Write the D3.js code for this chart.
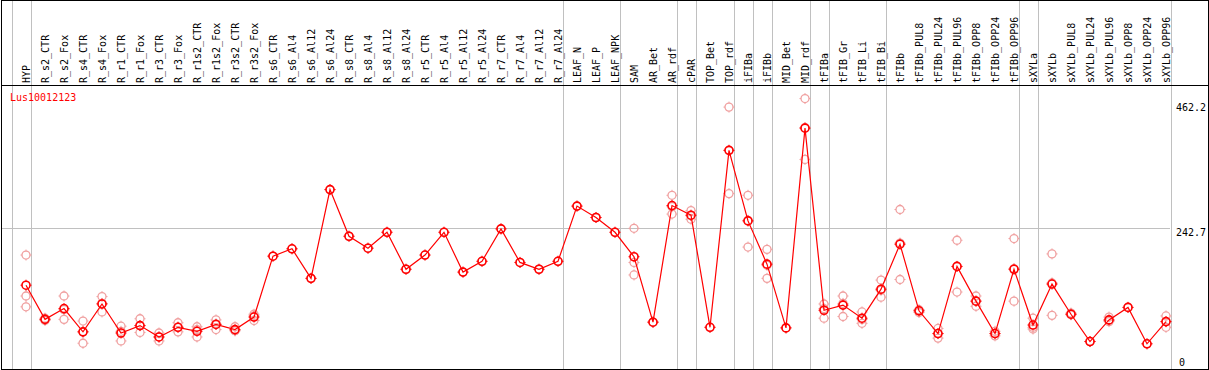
<!DOCTYPE html>
<html lang="en">
<head>
<meta charset="utf-8">
<title>Lus10012123</title>
<script src="https://d3js.org/d3.v7.min.js"></script>
<style>
  body { margin: 0; background: #fff; }
  svg text { font-family: "DejaVu Sans Mono", monospace; font-size: 10px; }
  .sep { stroke: #c0c0c0; stroke-width: 1px; shape-rendering: crispEdges; }
  .frame { stroke: #000; stroke-width: 1px; fill: none; shape-rendering: crispEdges; }
  .mean-line { fill: none; stroke: red; stroke-width: 1.2px; }
</style>
</head>
<body>
<svg width="1209" height="370"></svg>
<script>
// sample names, left to right
var categories = ["HYP","R_s2_CTR","R_s2_Fox","R_s4_CTR","R_s4_Fox","R_r1_CTR","R_r1_Fox","R_r3_CTR","R_r3_Fox",
  "R_r1s2_CTR","R_r1s2_Fox","R_r3s2_CTR","R_r3s2_Fox","R_s6_CTR","R_s6_Al4","R_s6_Al12","R_s6_Al24",
  "R_s8_CTR","R_s8_Al4","R_s8_Al12","R_s8_Al24","R_r5_CTR","R_r5_Al4","R_r5_Al12","R_r5_Al24",
  "R_r7_CTR","R_r7_Al4","R_r7_Al12","R_r7_Al24","LEAF_N","LEAF_P","LEAF_NPK","SAM","AR_Bet","AR_rdf",
  "cPAR","TOP_Bet","TOP_rdf","iFIBa","iFIBb","MID_Bet","MID_rdf","tFIBa","tFIB_Gr","tFIB_Li","tFIB_Bi",
  "tFIBb","tFIBb_PUL8","tFIBb_PUL24","tFIBb_PUL96","tFIBb_OPP8","tFIBb_OPP24","tFIBb_OPP96",
  "sXYLa","sXYLb","sXYLb_PUL8","sXYLb_PUL24","sXYLb_PUL96","sXYLb_OPP8","sXYLb_OPP24","sXYLb_OPP96"];

// mean expression per sample
var means = [142,82,101,60,109,58,71,51,68,
  61,73,64,86,193,206,154,310,
  228,207,235,170,195,235,165,184,
  241,182,170,184,281,261,235,192,77,282,
  265,68,379,255,179,67,418,98,107,84,135,
  214,97,57,175,114,57,170,
  72,144,91,43,81,103,39,78];

// biological replicates per sample
var replicates = [[195,123,104],[84,80,82],[123,82,99],[79,40,60],[122,95,110],[70,44,61],[83,59,71],[58,44,51],[76,60,68],
  [69,51,64],[81,64,74],[69,62,62],[80,88,91],[193],[206],[154],[310],
  [228],[207],[235],[170],[195],[235],[165],[184],
  [241],[182],[170],[184],[281],[261],[235],[242,182,160],[77,77],[300,267,280],
  [273,258,264],[68],[455,303,379],[300,209,256],[205,154,177],[67],[470,363,419],[109,84,101],[123,87,110],[95,75,82],[151,121,133],
  [275,152,216],[94,97,99],[66,49,57],[221,130,175],[123,105,114],[53,61,57],[224,114,171],
  [84,65,68],[197,89,146],[93,91,90],[43,43],[86,80,78],[103],[39],[88,68,78]];

// last sample of each group (a grey rule follows it)
var groupEnds = ["HYP","R_r7_Al24","LEAF_NPK","AR_rdf","cPAR","TOP_rdf","iFIBa","iFIBb","MID_rdf",
  "tFIBa","tFIB_Bi","tFIBb_OPP96","sXYLa","sXYLb_OPP96"];

var yTicks = [0, 242.7, 462.2];
var geneName = "Lus10012123";

var svg = d3.select("svg");
var W = 1209, H = 370, headerY = 85, plotRight = 1170;

var x = d3.scalePoint().domain(categories).range([26, 1166]);
var step = x.step();
var y = d3.scaleLinear().domain([0, 462.2]).range([366, 103]);

// vertical group separators, full height
var sepX = [x(categories[0]) - step + 4.5].concat(groupEnds.map(c => x(c) + 4.5));
svg.selectAll("line.vsep").data(sepX).enter().append("line")
  .attr("class", "sep vsep")
  .attr("x1", d => Math.round(d) + 0.5).attr("x2", d => Math.round(d) + 0.5)
  .attr("y1", 0).attr("y2", H);

// grid line at middle tick
svg.append("line").attr("class", "sep")
  .attr("x1", 1).attr("x2", plotRight)
  .attr("y1", Math.round(y(yTicks[1])) + 0.5).attr("y2", Math.round(y(yTicks[1])) + 0.5);

// frame and header rule
svg.append("rect").attr("class", "frame").attr("x", 1.5).attr("y", 0.5).attr("width", W - 2.5).attr("height", H - 1.5);
svg.append("line").attr("class", "frame").attr("x1", 1).attr("x2", W).attr("y1", headerY + 0.5).attr("y2", headerY + 0.5);

// rotated sample labels
svg.selectAll("text.cat").data(categories).enter().append("text")
  .attr("class", "cat")
  .attr("transform", d => `translate(${x(d) + 4},${headerY - 2}) rotate(-90)`)
  .attr("fill", "#000")
  .text(d => d);

// right value labels
svg.selectAll("text.tick").data(yTicks).enter().append("text")
  .attr("class", "tick")
  .attr("x", d => d === 0 ? 1179 : 1176)
  .attr("y", d => Math.min(y(d) + 8, 366))
  .attr("fill", "#000")
  .text(d => d);

svg.append("text").attr("x", 10).attr("y", 101).attr("fill", "red").text(geneName);

// marker: circle with tiny ticks at the four compass points
function marker(sel, color, width) {
  sel.append("circle").attr("r", 4).attr("fill", "none").attr("stroke", color).attr("stroke-width", width);
  [[0, -4, 0, -5.5], [0, 4, 0, 5.5], [-4, 0, -5.5, 0], [4, 0, 5.5, 0]].forEach(function(t) {
    sel.append("line").attr("x1", t[0]).attr("y1", t[1]).attr("x2", t[2]).attr("y2", t[3])
      .attr("stroke", color).attr("stroke-width", 1);
  });
}

// replicate points
var repPts = [];
replicates.forEach((r, i) => r.forEach(v => repPts.push({c: categories[i], v: v})));
svg.selectAll("g.rep").data(repPts).enter().append("g")
  .attr("class", "rep")
  .attr("transform", d => `translate(${x(d.c)},${y(d.v)})`)
  .each(function() { marker(d3.select(this), "#f0a0a0", 1.3); });

// mean line and points
var meanData = categories.map((c, i) => ({c: c, v: means[i]}));
svg.append("path").datum(meanData).attr("class", "mean-line")
  .attr("d", d3.line().x(d => x(d.c)).y(d => y(d.v)));
svg.selectAll("g.mean").data(meanData).enter().append("g")
  .attr("class", "mean")
  .attr("transform", d => `translate(${x(d.c)},${y(d.v)})`)
  .each(function() { marker(d3.select(this), "red", 1.6); });
</script>
</body>
</html>
